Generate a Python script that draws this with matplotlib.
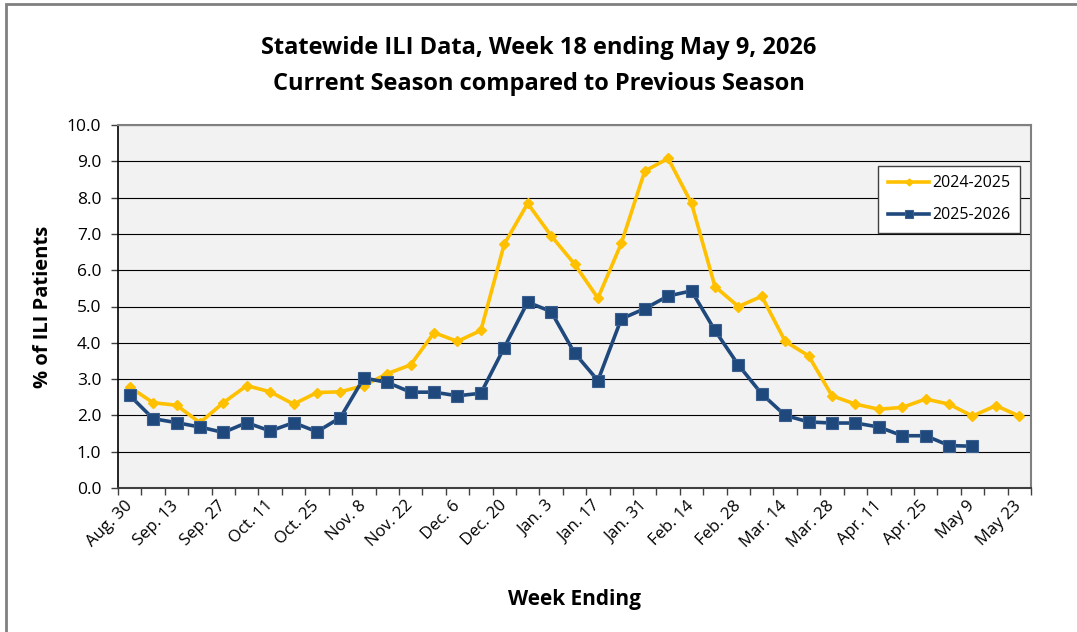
import matplotlib
matplotlib.use("Agg")
import matplotlib.pyplot as plt
from matplotlib.patches import Rectangle

weeks = ["Aug. 30", "Sep. 6", "Sep. 13", "Sep. 20", "Sep. 27", "Oct. 4", "Oct. 11",
         "Oct. 18", "Oct. 25", "Nov. 1", "Nov. 8", "Nov. 15", "Nov. 22", "Nov. 29",
         "Dec. 6", "Dec. 13", "Dec. 20", "Dec. 27", "Jan. 3", "Jan. 10", "Jan. 17",
         "Jan. 24", "Jan. 31", "Feb. 7", "Feb. 14", "Feb. 21", "Feb. 28", "Mar. 7",
         "Mar. 14", "Mar. 21", "Mar. 28", "Apr. 4", "Apr. 11", "Apr. 18", "Apr. 25",
         "May 2", "May 9", "May 16", "May 23"]

season_2024_2025 = [2.78, 2.35, 2.28, 1.80, 2.35, 2.82, 2.65, 2.31, 2.63, 2.65,
                    2.82, 3.15, 3.39, 4.28, 4.04, 4.34, 6.72, 7.84, 6.95, 6.17,
                    5.23, 6.74, 8.73, 9.08, 7.84, 5.55, 5.00, 5.28, 4.04, 3.64,
                    2.54, 2.31, 2.17, 2.22, 2.45, 2.31, 1.98, 2.27, 1.98]

season_2025_2026 = [2.55, 1.91, 1.80, 1.68, 1.53, 1.80, 1.57, 1.80, 1.55, 1.94,
                    3.03, 2.91, 2.64, 2.64, 2.54, 2.61, 3.87, 5.12, 4.86, 3.72,
                    2.96, 4.66, 4.94, 5.29, 5.43, 4.34, 3.39, 2.59, 2.00, 1.82,
                    1.79, 1.79, 1.68, 1.44, 1.44, 1.17, 1.15]

y_ticks = [0, 1, 2, 3, 4, 5, 6, 7, 8, 9, 10]

FONT = "Open Sans"
GOLD = "#FFC000"
BLUE = "#1F497D"

fig = plt.figure(figsize=(10.77, 6.32), dpi=100)
fig.patch.set_facecolor("white")

# outer chart border (top and left visible)
fig.patches.append(Rectangle((6 / 1077, -0.05), 1.2, 1 - 4 / 632 + 0.05,
                             transform=fig.transFigure, fill=False,
                             edgecolor="#808080", linewidth=2.0))

ax = fig.add_axes([118 / 1077, 1 - 488 / 632, (1031 - 118) / 1077, (488 - 125) / 632])
ax.set_facecolor("#F2F2F2")

x1 = list(range(len(season_2024_2025)))
x2 = list(range(len(season_2025_2026)))

ax.plot(x1, season_2024_2025, color=GOLD, linewidth=2.6, marker="D",
        markersize=5, markeredgecolor=GOLD, label="2024-2025", zorder=3)
ax.plot(x2, season_2025_2026, color=BLUE, linewidth=2.6, marker="s",
        markersize=8.5, markeredgecolor="#3A5F8F", markeredgewidth=0.8,
        label="2025-2026", zorder=4)

ax.set_xlim(-0.5, len(weeks) - 0.5)
ax.set_ylim(0, 10)

ax.set_yticks(y_ticks)
ax.set_yticklabels([f"{v:.1f}" for v in y_ticks], fontsize=12.5, family=FONT)
ax.yaxis.grid(True, color="#000000", linewidth=0.8)
ax.set_axisbelow(True)

# category tick marks at boundaries, labels at category centres
ax.set_xticks([i - 0.5 for i in range(len(weeks) + 1)], minor=True)
ax.set_xticks(list(range(0, len(weeks), 2)))
ax.set_xticklabels(weeks[::2], rotation=45, ha="right", va="center",
                   rotation_mode="anchor", fontsize=12, family=FONT)
ax.tick_params(axis="x", which="major", length=0, pad=11)
ax.tick_params(axis="x", which="minor", length=5, width=1, color="#404040")
ax.tick_params(axis="y", length=5, width=1, color="#404040", pad=7)

for side in ["top", "right"]:
    ax.spines[side].set_color("#808080")
    ax.spines[side].set_linewidth(1.5)
ax.spines["left"].set_color("#000000")
ax.spines["left"].set_linewidth(1.2)
ax.spines["bottom"].set_color("#404040")
ax.spines["bottom"].set_linewidth(1.5)

ax.set_ylabel("% of ILI Patients", fontsize=14.5, fontweight="bold", family=FONT,
              labelpad=10)
ax.set_xlabel("Week Ending", fontsize=15, fontweight="bold", family=FONT,
              labelpad=28)

fig.text(0.5, 1 - 48 / 632, "Statewide ILI Data, Week 18 ending May 9, 2026",
         ha="center", va="center", fontsize=17, fontweight="bold", family=FONT)
fig.text(0.5, 1 - 84 / 632, "Current Season compared to Previous Season",
         ha="center", va="center", fontsize=17, fontweight="bold", family=FONT)

leg = ax.legend(loc="upper right", bbox_to_anchor=(0.997, 0.91), frameon=True,
                fancybox=False, edgecolor="#404040", framealpha=1,
                prop={"family": FONT, "size": 11.5}, handlelength=2.6,
                handletextpad=0.2, labelspacing=1.0, borderpad=0.6,
                markerscale=0.7)
leg.get_frame().set_linewidth(1.0)

fig.savefig("out.png", dpi=100, facecolor="white")
